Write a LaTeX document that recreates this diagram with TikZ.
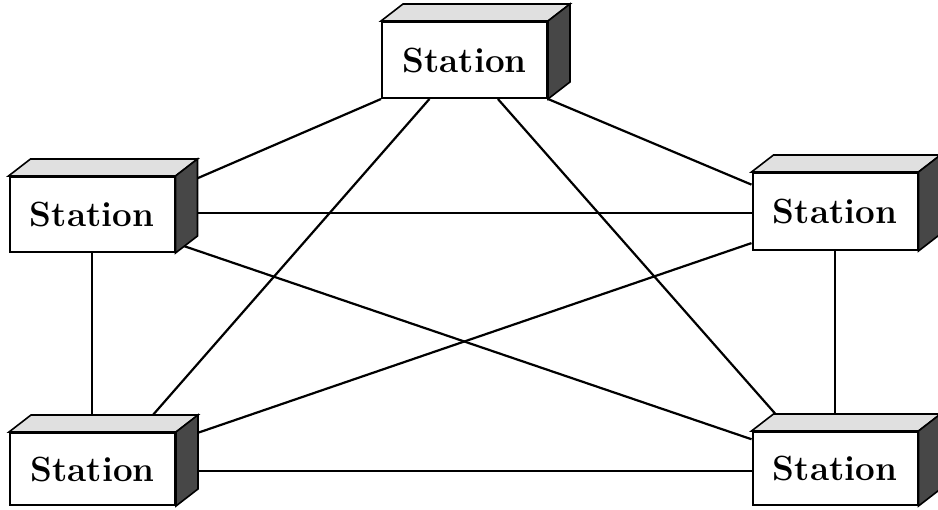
\documentclass[tikz,border=0pt]{standalone}
\usetikzlibrary{calc}
\tikzset{
  stationbox/.style={draw, line width=2pt, fill=white, inner sep=0pt,
    minimum width=165pt, font=\fontsize{35}{40}\selectfont\bfseries},
  topface/.style={draw, line width=1.6pt, fill=black!12},
  sideface/.style={draw, line width=1.6pt, fill=black!72},
  link/.style={line width=2.2pt}
}
\newcommand\stationat[4]{%
  \node[stationbox, minimum height=#4pt] (#1) at (#2,#3) {Station};
  \path (#1.north west) ++(22,-17) coordinate (#1-btl);
  \path (#1.north east) ++(22,-17) coordinate (#1-btr);
  \path (#1.south east) ++(22,-17) coordinate (#1-bbr);
  \filldraw[topface] (#1.north west) -- (#1-btl) -- (#1-btr) -- (#1.north east) -- cycle;
  \filldraw[sideface] (#1.north east) -- (#1-btr) -- (#1-bbr) -- (#1.south east) -- cycle;
}
\begin{document}
\begin{tikzpicture}[x=1pt, y=-1pt]
\useasboundingbox (0,0) rectangle (938,510);
\stationat{T}{464.5}{60}{76}
\stationat{L}{92}{214.5}{75}
\stationat{R}{835}{211.5}{77}
\stationat{BL}{92.5}{469}{72}
\stationat{BR}{835}{468.5}{73}
% links
\draw[link] (T.south west) -- ($(L-btr)!0.25!(L-bbr)$);
\draw[link] (T.south east) -- ($(R.north west)!0.16!(R.south west)$);
\draw[link] ($(T.south west)!0.29!(T.south east)$) -- ($(BL-btl)!0.73!(BL-btr)$);
\draw[link] ($(T.south west)!0.70!(T.south east)$) -- ($(BR-btl)+(2,0)$);
\coordinate (lh) at ($(L-btr)!0.7!(L-bbr)$);
\draw[link] (lh) -- (lh -| R.west);
\draw[link] ($(L.south east)!0.4!(L-bbr)$) -- ($(BR.north west)!0.11!(BR.south west)$);
\draw[link] ($(R.north west)!0.9!(R.south west)$) -- ($(BL-btr)!0.24!(BL-bbr)$);
\draw[link] (L.south) -- (L.south |- BL-btl);
\draw[link] (R.south) -- (R.south |- BR-btl);
\coordinate (blh) at ($(BL-btr)!0.76!(BL-bbr)$);
\draw[link] (blh) -- (blh -| BR.west);
\end{tikzpicture}
\end{document}
